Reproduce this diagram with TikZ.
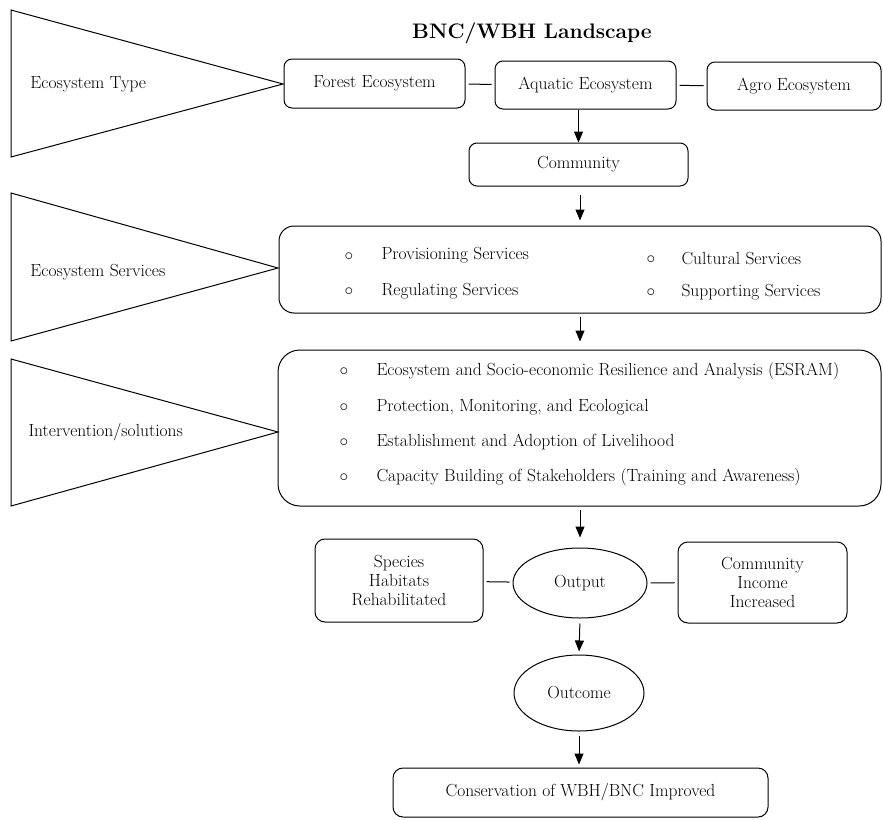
\documentclass[tikz,border=0pt]{standalone}
\usetikzlibrary{arrows.meta,shapes.geometric}
\begin{document}
\begin{tikzpicture}[x=1pt,y=-1pt,line width=1pt,
  every node/.style={font=\fontsize{17.5}{19}\selectfont},
  rbox/.style={draw,rounded corners=8pt,inner sep=0pt,align=center},
  ell/.style={draw,ellipse,inner sep=0pt},
  txt/.style={inner sep=0pt,anchor=west},
  tri/.style={draw,line join=miter},
  arr/.style={-{Triangle[length=11pt,width=9pt]}},
  link/.style={shorten <=3pt,shorten >=3pt}]
\useasboundingbox (0,0) rectangle (883,819);
% title
\node[font=\fontsize{21}{25}\selectfont\bfseries] (title) at (532,33) {BNC/WBH Landscape};
% triangles
\draw[tri] (11,10) -- (283,84) -- (11,157) -- cycle;
\node[txt] (t1) at (30,84) {Ecosystem Type};
\draw[tri] (11,193) -- (278,268) -- (11,341) -- cycle;
\node[txt] (t2) at (30,272) {Ecosystem Services};
\draw[tri] (11,359) -- (278,432) -- (11,506) -- cycle;
\node[txt] (t3) at (28,432) {Intervention/solutions};
% top row
\node[rbox,minimum width=181pt,minimum height=49pt] (forest) at (374.5,83.5) {Forest Ecosystem};
\node[rbox,minimum width=181pt,minimum height=48pt] (aquatic) at (585.5,85) {Aquatic Ecosystem};
\node[rbox,minimum width=174pt,minimum height=48pt] (agro) at (794,86) {Agro Ecosystem};
\draw[link] (forest) -- (aquatic);
\draw[link] (aquatic) -- (agro);
% community
\node[rbox,minimum width=219pt,minimum height=43pt] (community) at (578.5,164.5) {Community};
\draw[arr] (aquatic.south -| community.north) -- (community.north);
% services
\node[rbox,rounded corners=15pt,minimum width=602pt,minimum height=87pt] (services) at (580,269.5) {};
\node[txt] (b1) at (344,257) {$\circ$};
\node[txt] (s1) at (381,255) {Provisioning Services};
\node[txt] (b2) at (344,292) {$\circ$};
\node[txt] (s2) at (381,291) {Regulating Services};
\node[txt] (b3) at (646,260) {$\circ$};
\node[txt] (s3) at (681,259) {Cultural Services};
\node[txt] (b4) at (646,293) {$\circ$};
\node[txt] (s4) at (681,292) {Supporting Services};
\draw[arr,shorten <=8pt,shorten >=5pt] (community.south -| services.north) -- (services.north);
% interventions
\node[rbox,rounded corners=22pt,minimum width=603pt,minimum height=156pt] (interv) at (579.5,428) {};
\node[txt] (c1) at (339,372) {$\circ$};
\node[txt] (i1) at (376,371) {Ecosystem and Socio-economic Resilience and Analysis (ESRAM)};
\node[txt] (c2) at (339,408) {$\circ$};
\node[txt] (i2) at (376,407) {Protection, Monitoring, and Ecological};
\node[txt] (c3) at (339,443) {$\circ$};
\node[txt] (i3) at (376,442) {Establishment and Adoption of Livelihood};
\node[txt] (c4) at (339,478) {$\circ$};
\node[txt] (i4) at (376,477) {Capacity Building of Stakeholders (Training and Awareness)};
\draw[arr,shorten <=3pt,shorten >=8pt] (services.south) -- (interv.north -| services.south);
% output row
\node[ell,minimum width=134pt,minimum height=70pt] (output) at (580,583) {Output};
\node[rbox,rounded corners=10pt,minimum width=168pt,minimum height=83pt] (species) at (399,580.5) {Species\\Habitats\\Rehabilitated};
\node[rbox,rounded corners=10pt,minimum width=169pt,minimum height=81pt] (income) at (762.5,582.5) {Community\\Income\\Increased};
\draw[arr,shorten <=3pt,shorten >=10pt] (output.north |- interv.south) -- (output.north);
\draw[link] (species) -- (output);
\draw[link] (output) -- (income);
% outcome
\node[ell,minimum width=130pt,minimum height=76pt] (outcome) at (579,693) {Outcome};
\draw[arr,shorten <=5pt,shorten >=3pt] (output.south) -- (outcome.north);
% conservation
\node[rbox,rounded corners=10pt,minimum width=375pt,minimum height=49pt] (conserv) at (580.5,792.5) {Conservation of WBH/BNC Improved};
\draw[arr,shorten <=4pt,shorten >=3pt] (outcome.south) -- (conserv.north -| outcome.south);
\end{tikzpicture}
\end{document}
